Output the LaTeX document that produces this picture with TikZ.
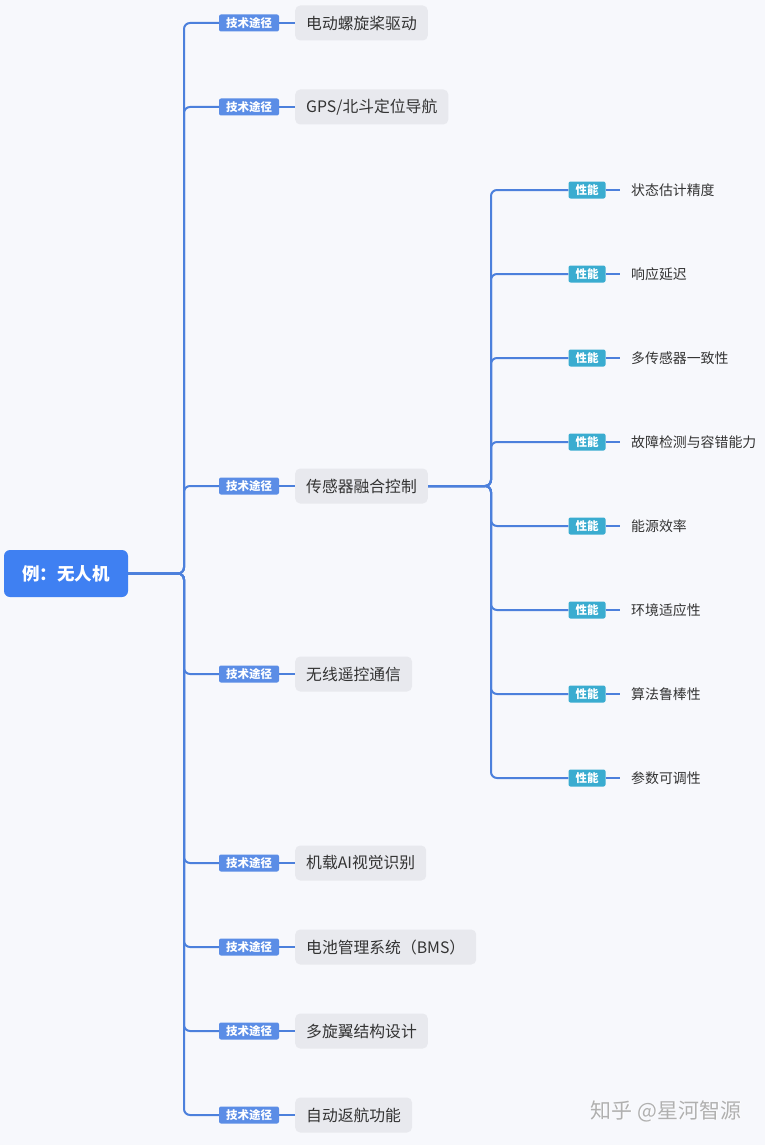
\documentclass[tikz,border=0pt]{standalone}
\usepackage{fontspec}
\newfontfamily\cjk{Noto Sans CJK SC}
\definecolor{bg}{HTML}{F7F8FC}
\definecolor{rootblue}{HTML}{3F80F2}
\definecolor{linec}{HTML}{4C80DC}
\definecolor{labblue}{HTML}{5B8DE6}
\definecolor{labteal}{HTML}{3AACD0}
\definecolor{nodegrey}{HTML}{E8E9EE}
\definecolor{txt}{HTML}{333333}
\definecolor{wm}{HTML}{B0B0B0}
\tikzset{
  rootbox/.style={fill=rootblue, rounded corners=6pt, text=white, font=\cjk\fontsize{17.5}{20}\selectfont\bfseries, minimum width=124pt, minimum height=47pt, inner sep=0pt},
  tlab/.style={fill=labblue, rounded corners=2pt, text=white, font=\cjk\fontsize{11.5}{13}\selectfont\bfseries, minimum width=60pt, minimum height=17pt, inner sep=0pt},
  plab/.style={fill=labteal, rounded corners=2pt, text=white, font=\cjk\fontsize{11.5}{13}\selectfont\bfseries, minimum width=37pt, minimum height=17pt, inner sep=0pt},
  mbox/.style={fill=nodegrey, rounded corners=5pt, text=txt, font=\cjk\fontsize{15.8}{18}\selectfont, minimum height=35pt, inner xsep=11pt, inner ysep=0pt, anchor=west},
  sbox/.style={text=txt, font=\cjk\fontsize{13.9}{16}\selectfont, inner xsep=11pt, inner ysep=0pt, anchor=west},
  conn/.style={draw=linec, line width=2pt, rounded corners=6pt},
  lconn/.style={draw=linec, line width=2pt}
}
\begin{document}
\begin{tikzpicture}[x=1pt,y=-1pt]
\fill[bg] (0,0) rectangle (765,1145);
\useasboundingbox (0,0) rectangle (765,1145);
\node[rootbox] (root) at (66,573.5) {例：无人机};
% main branches
\foreach \i/\y/\t in {1/23/{电动螺旋桨驱动}, 2/107/{GPS/北斗定位导航}, 3/486/{传感器融合控制}, 4/674/{无线遥控通信}, 5/863/{机载AI视觉识别}, 6/947/{电池管理系统（BMS）}, 7/1031/{多旋翼结构设计}, 8/1115/{自动返航功能}}{
  \node[tlab] (l\i) at (249,\y) {技术途径};
  \node[mbox] (m\i) at (295,\y) {\t};
  \path[conn] (root.east) -- (184,573.5) -- (184,\y) -- (l\i.west);
  \path[lconn] (l\i.east) -- (m\i.west);
}
% sub branches
\foreach \j/\y/\t in {1/190/{状态估计精度}, 2/274/{响应延迟}, 3/358/{多传感器一致性}, 4/442/{故障检测与容错能力}, 5/526/{能源效率}, 6/610/{环境适应性}, 7/694/{算法鲁棒性}, 8/778/{参数可调性}}{
  \node[plab] (p\j) at (587,\y) {性能};
  \node[sbox] (s\j) at (620,\y) {\t};
  \path[conn] (m3.east) -- (491,486) -- (491,\y) -- (p\j.west);
  \path[lconn] (p\j.east) -- (s\j.west);
}
% watermark
\node[text=white, font=\cjk\fontsize{21}{24}\selectfont] (wm2) at (666.8,1111.8) {知乎 @星河智源};
\node[text=wm, font=\cjk\fontsize{21}{24}\selectfont] (wm) at (666,1111) {知乎 @星河智源};
\end{tikzpicture}
\end{document}
